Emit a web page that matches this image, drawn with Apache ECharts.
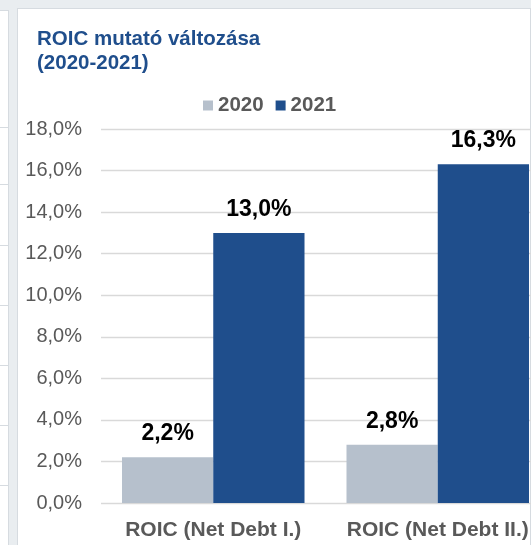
<!DOCTYPE html>
<html>
<head>
<meta charset="utf-8">
<script src="https://cdn.jsdelivr.net/npm/echarts@6/dist/echarts.min.js"></script>
<style>
  html, body { margin: 0; padding: 0; width: 531px; height: 545px; overflow: hidden; background: #e9edf0; position: relative; }
  .side { position: absolute; left: -2px; top: 10px; width: 9px; height: 600px; background: #fff; border: 1px solid #d6dbe0; }
  .side div { position: absolute; left: 0; width: 100%; height: 1px; background: #d6dbe0; }
  .card { position: absolute; left: 17px; top: 8px; width: 512px; height: 600px; background: #fff; border: 1px solid #d6dbe0; }
  #chart { position: absolute; left: 0; top: 0; width: 550px; height: 545px; }
</style>
</head>
<body>
<div class="side">
  <div style="top:116px"></div>
  <div style="top:173px"></div>
  <div style="top:234px"></div>
  <div style="top:294px"></div>
  <div style="top:354px"></div>
  <div style="top:414px"></div>
  <div style="top:474px"></div>
</div>
<div class="card"></div>
<div id="chart"></div>
<script>
// adatok
var categories = ['ROIC (Net Debt I.)', 'ROIC (Net Debt II.)'];
var seriesNames = ['2020', '2021'];
var values2020 = [2.2, 2.8];
var values2021 = [13.0, 16.3];
var yTicks = [0, 2, 4, 6, 8, 10, 12, 14, 16, 18];

var font = '"Liberation Sans", Arial, sans-serif';
var pct = function (v) { return v.toFixed(1).replace('.', ',') + '%'; };

var valueLabel = {
    show: true,
    position: 'top',
    distance: 12,
    color: '#000',
    fontWeight: 'bold',
    fontSize: 23,
    fontFamily: font,
    formatter: function (p) { return pct(p.value); }
};

// a diagram jobb széle kilóg a keretből, ezért szélesebb a div
var myChart = echarts.init(document.getElementById('chart'));
var option = {
    animation: false,
    backgroundColor: 'transparent',
    title: {
        text: 'ROIC mutató változása\n(2020-2021)',
        left: 37,
        top: 27,
        padding: 0,
        textStyle: {
            color: '#1f4e8c',
            fontWeight: 'bold',
            fontSize: 20.5,
            lineHeight: 24,
            fontFamily: font
        }
    },
    legend: {
        data: seriesNames,
        left: 203,
        top: 95,
        padding: 0,
        itemWidth: 10,
        itemHeight: 10,
        itemGap: 12,
        icon: 'rect',
        textStyle: { color: '#595959', fontWeight: 'bold', fontSize: 20.5, fontFamily: font }
    },
    grid: { left: 101, right: 0, top: 129, bottom: 42, containLabel: false },
    xAxis: {
        type: 'category',
        data: categories,
        axisLine: { show: false },
        axisTick: { show: false },
        axisLabel: { interval: 0, margin: 17, color: '#595959', fontWeight: 'bold', fontSize: 21, fontFamily: font }
    },
    yAxis: {
        type: 'value',
        min: yTicks[0],
        max: yTicks[yTicks.length - 1],
        interval: 2,
        axisLine: { show: false },
        axisTick: { show: false },
        splitLine: { lineStyle: { color: '#d9d9d9', width: 1.3 } },
        axisLabel: { margin: 19, color: '#595959', fontSize: 20, fontFamily: font, formatter: pct }
    },
    series: [
        {
            name: seriesNames[0],
            type: 'bar',
            data: values2020,
            barGap: '0%',
            barCategoryGap: '18.7%',
            itemStyle: { color: '#b6c0cc' },
            label: valueLabel
        },
        {
            name: seriesNames[1],
            type: 'bar',
            data: values2021,
            barGap: '0%',
            barCategoryGap: '18.7%',
            itemStyle: { color: '#1f4e8c' },
            label: valueLabel
        }
    ]
};
myChart.setOption(option);
</script>
</body>
</html>
